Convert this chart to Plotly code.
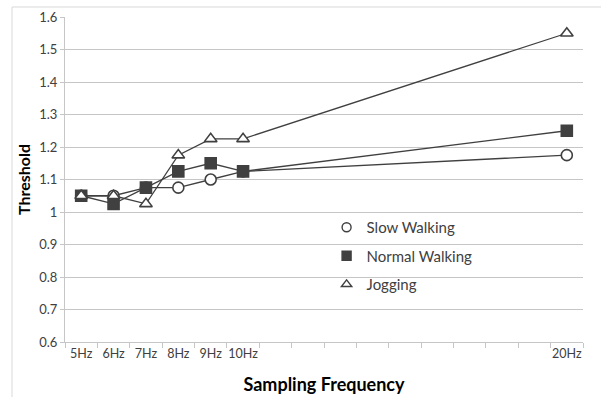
import plotly.graph_objects as go

freq = [5, 6, 7, 8, 9, 10, 20]
freq_labels = ["5Hz", "6Hz", "7Hz", "8Hz", "9Hz", "10Hz", "20Hz"]
slow_walking = [1.05, 1.05, 1.075, 1.075, 1.10, 1.125, 1.175]
normal_walking = [1.05, 1.025, 1.075, 1.125, 1.15, 1.125, 1.25]
jogging = [1.05, 1.05, 1.025, 1.175, 1.225, 1.225, 1.55]
y_ticks = [0.6, 0.7, 0.8, 0.9, 1.0, 1.1, 1.2, 1.3, 1.4, 1.5, 1.6]
y_tick_labels = ["0.6", "0.7", "0.8", "0.9", "1", "1.1", "1.2", "1.3", "1.4", "1.5", "1.6"]

FONT = "Lato"
DARK = "#404040"
GRID = "#c6c6c6"

series = [
    ("Slow Walking", slow_walking, "circle", "white"),
    ("Normal Walking", normal_walking, "square", DARK),
    ("Jogging", jogging, "triangle-up", "white"),
]

fig = go.Figure()
for name, ys, sym, fill in series:
    fig.add_trace(go.Scatter(
        x=freq, y=ys, mode="lines+markers", name=name, showlegend=False,
        line=dict(color=DARK, width=1.3),
        marker=dict(symbol=sym, size=11, color=fill, line=dict(color=DARK, width=1.6)),
        cliponaxis=False,
    ))
for name, ys, sym, fill in series:
    fig.add_trace(go.Scatter(
        x=[None], y=[None], mode="markers", name=name, legendgroup=name,
        marker=dict(symbol=sym, size=9, color=fill, line=dict(color=DARK, width=1.4)),
    ))

xmin, xmax = freq[0] - 0.5, freq[-1] + 0.5
minor_vals = [xmin + k for k in range(int(xmax - xmin) + 1)]

fig.update_layout(
    width=601, height=397,
    margin=dict(l=65, r=18, t=17, b=55),
    paper_bgcolor="white", plot_bgcolor="white",
    font=dict(family=FONT, size=13, color=DARK),
    legend=dict(
        x=0.505, y=0.403, xanchor="left", yanchor="top",
        bgcolor="rgba(0,0,0,0)", font=dict(family=FONT, size=15, color=DARK),
        itemwidth=30, tracegroupgap=6, traceorder="grouped",
    ),
    xaxis=dict(
        range=[xmin, xmax], tickmode="array", tickvals=freq, ticktext=freq_labels,
        ticks="", showgrid=False, showline=True, linecolor=GRID, linewidth=1,
        tickfont=dict(family=FONT, size=12.5, color=DARK), zeroline=False, automargin=False,
        minor=dict(tickmode="array", tickvals=minor_vals, ticks="outside", ticklen=5,
                   tickcolor=GRID, showgrid=False),
        title=dict(text="<b>Sampling Frequency</b>", font=dict(family=FONT, size=18, color="black"), standoff=18),
    ),
    yaxis=dict(
        range=[0.6, 1.6], tickmode="array", tickvals=y_ticks, ticktext=y_tick_labels,
        ticks="outside", ticklen=4, tickcolor=GRID, showgrid=True, gridcolor=GRID, gridwidth=1,
        showline=True, linecolor=GRID, linewidth=1, zeroline=False, automargin=False,
        tickfont=dict(family=FONT, size=13, color=DARK),
        title=dict(text="<b>Threshold</b>", font=dict(family=FONT, size=16, color="black"), standoff=4),
    ),
)

fig.add_shape(type="rect", xref="paper", yref="paper",
              x0=-0.1023, x1=1.2, y0=-0.2, y1=1.0308,
              line=dict(color="#d9d9d9", width=1), fillcolor="rgba(0,0,0,0)", layer="below")

fig.write_html("out.html")
